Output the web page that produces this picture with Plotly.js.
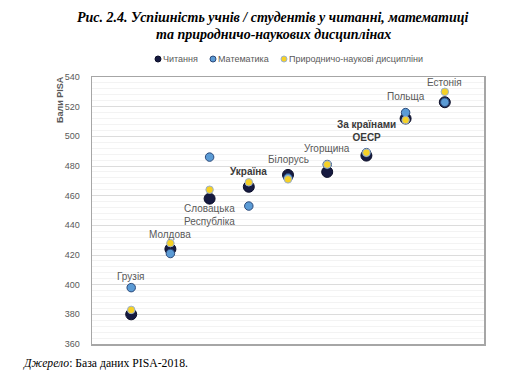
<!DOCTYPE html>
<html>
<head>
<meta charset="utf-8">
<script src="https://cdn.plot.ly/plotly-3.0.1.min.js"></script>
<style>html,body{margin:0;padding:0;background:#fff;}#chart{width:505px;height:375px;}</style>
</head>
<body>
<div id="chart"></div>
<script>
// Data
const countries = ["Грузія", "Молдова", "Словацька<br>Республіка", "Україна", "Білорусь", "Угорщина", "За країнами<br>ОЕСР", "Польща", "Естонія"];
const reading = [380, 424, 458, 466, 474, 476, 487, 512, 523];
const math    = [398, 421, 486, 453, 472, 481, 489, 516, 523];
const science = [383, 428, 464, 469, 471, 481, 489, 511, 530];
const seriesNames = ["Читання", "Математика", "Природничо-наукові дисципліни"];
const yTicks = [360, 380, 400, 420, 440, 460, 480, 500, 520, 540];
const titleLines = ["Рис. 2.4. Успішність учнів / студентів у читанні, математиці", "та природничо-наукових дисциплінах"];
const sourceText = "<i>Джерело</i>: База даних PISA-2018.";
const yTitle = "Бали PISA";

const xs = countries.map((_, i) => i + 1);

// plot area geometry in pixels (layout only)
const plotL = 92, plotW = 392, plotB = 344, plotH = 267;
const px2x = p => (p - plotL) / plotW;
const px2y = p => (plotB - p) / plotH;

// label placement (style only)
const labelShift = [11, 9, -16, 11, 15, 16, 22, 16, 9];
const boldLabel = [false, false, false, true, false, false, true, false, false];

const traces = [
  {x: xs, y: reading, name: seriesNames[0], mode: "markers", type: "scatter",
   marker: {size: 11, color: "#161a40", line: {color: "#0b0e28", width: 1}}},
  {x: xs, y: math, name: seriesNames[1], mode: "markers", type: "scatter",
   marker: {size: 8.5, color: "#5b9bd5", line: {color: "#2d4a7a", width: 1}}},
  {x: xs, y: science, name: seriesNames[2], mode: "markers", type: "scatter",
   marker: {size: 7.5, color: "#f6d126", line: {color: "#9bb1cc", width: 1}}}
];

const annotations = countries.map((c, i) => {
  const below = labelShift[i] < 0;
  const yv = below ? Math.min(reading[i], math[i], science[i]) : Math.max(reading[i], math[i], science[i]);
  return {
    x: xs[i], y: yv, xref: "x", yref: "y", text: boldLabel[i] ? "<b>" + c + "</b>" : c,
    showarrow: false, yshift: labelShift[i], xanchor: "center", yanchor: "middle",
    font: {family: "Liberation Sans, Arial, sans-serif", size: 10, color: boldLabel[i] ? "#3a3a3a" : "#595959"},
    align: "center"
  };
});

// title lines
const titleY = [18, 34];
titleLines.forEach((t, i) => {
  annotations.push({
    x: px2x(273), y: px2y(titleY[i]), xref: "paper", yref: "paper", text: "<b><i>" + t + "</i></b>",
    showarrow: false, xanchor: "center", yanchor: "middle",
    font: {family: "Liberation Serif, serif", size: 14, color: "#000"}
  });
});

// y-axis title
annotations.push({
  x: px2x(60), y: px2y(100), xref: "paper", yref: "paper", text: "<b>" + yTitle + "</b>",
  textangle: -90, showarrow: false, xanchor: "center", yanchor: "middle",
  font: {family: "Liberation Sans, Arial, sans-serif", size: 9, color: "#595959"}
});

// source
annotations.push({
  x: px2x(21), y: px2y(363), xref: "paper", yref: "paper", text: sourceText,
  showarrow: false, xanchor: "left", yanchor: "middle",
  font: {family: "Liberation Serif, serif", size: 11.7, color: "#000"}
});

// custom legend
const legendColors = [["#161a40", "#0b0e28"], ["#5b9bd5", "#2d4a7a"], ["#f6d126", "#9bb1cc"]];
const legendX = [158, 213, 284];
const shapes = [];
seriesNames.forEach((n, i) => {
  const px = px2x(legendX[i]);
  const py = px2y(59);
  shapes.push({type: "circle", xref: "paper", yref: "paper", xsizemode: "pixel", ysizemode: "pixel",
    xanchor: px, yanchor: py, x0: -3, x1: 3, y0: -3, y1: 3,
    fillcolor: legendColors[i][0], line: {color: legendColors[i][1], width: 1}});
  annotations.push({x: px, y: py, xref: "paper", yref: "paper", xshift: 3, text: n, showarrow: false,
    xanchor: "left", yanchor: "middle",
    font: {family: "Liberation Sans, Arial, sans-serif", size: 9, color: "#595959"}});
});

const layout = {
  width: 505, height: 375,
  margin: {l: 92, r: 21, t: 77, b: 31},
  paper_bgcolor: "#fff", plot_bgcolor: "#fff",
  showlegend: false,
  xaxis: {range: [0, 10], showticklabels: false, showgrid: false, zeroline: false,
    showline: true, linecolor: "#a6a6a6", linewidth: 1.5, mirror: true, ticks: ""},
  yaxis: {range: [360, 540], tickvals: yTicks, showgrid: true, gridcolor: "#dcdcdc", gridwidth: 1,
    zeroline: false, showline: true, linecolor: "#a6a6a6", linewidth: 1.5, mirror: true,
    ticks: "", ticklabelstandoff: 9,
    tickfont: {family: "Liberation Sans, Arial, sans-serif", size: 9, color: "#595959"},
    minor: {dtick: 4, showgrid: true, gridcolor: "#f3f3f3", gridwidth: 1}},
  annotations: annotations,
  shapes: shapes
};

Plotly.newPlot("chart", traces, layout, {staticPlot: true, displayModeBar: false});
</script>
</body>
</html>
